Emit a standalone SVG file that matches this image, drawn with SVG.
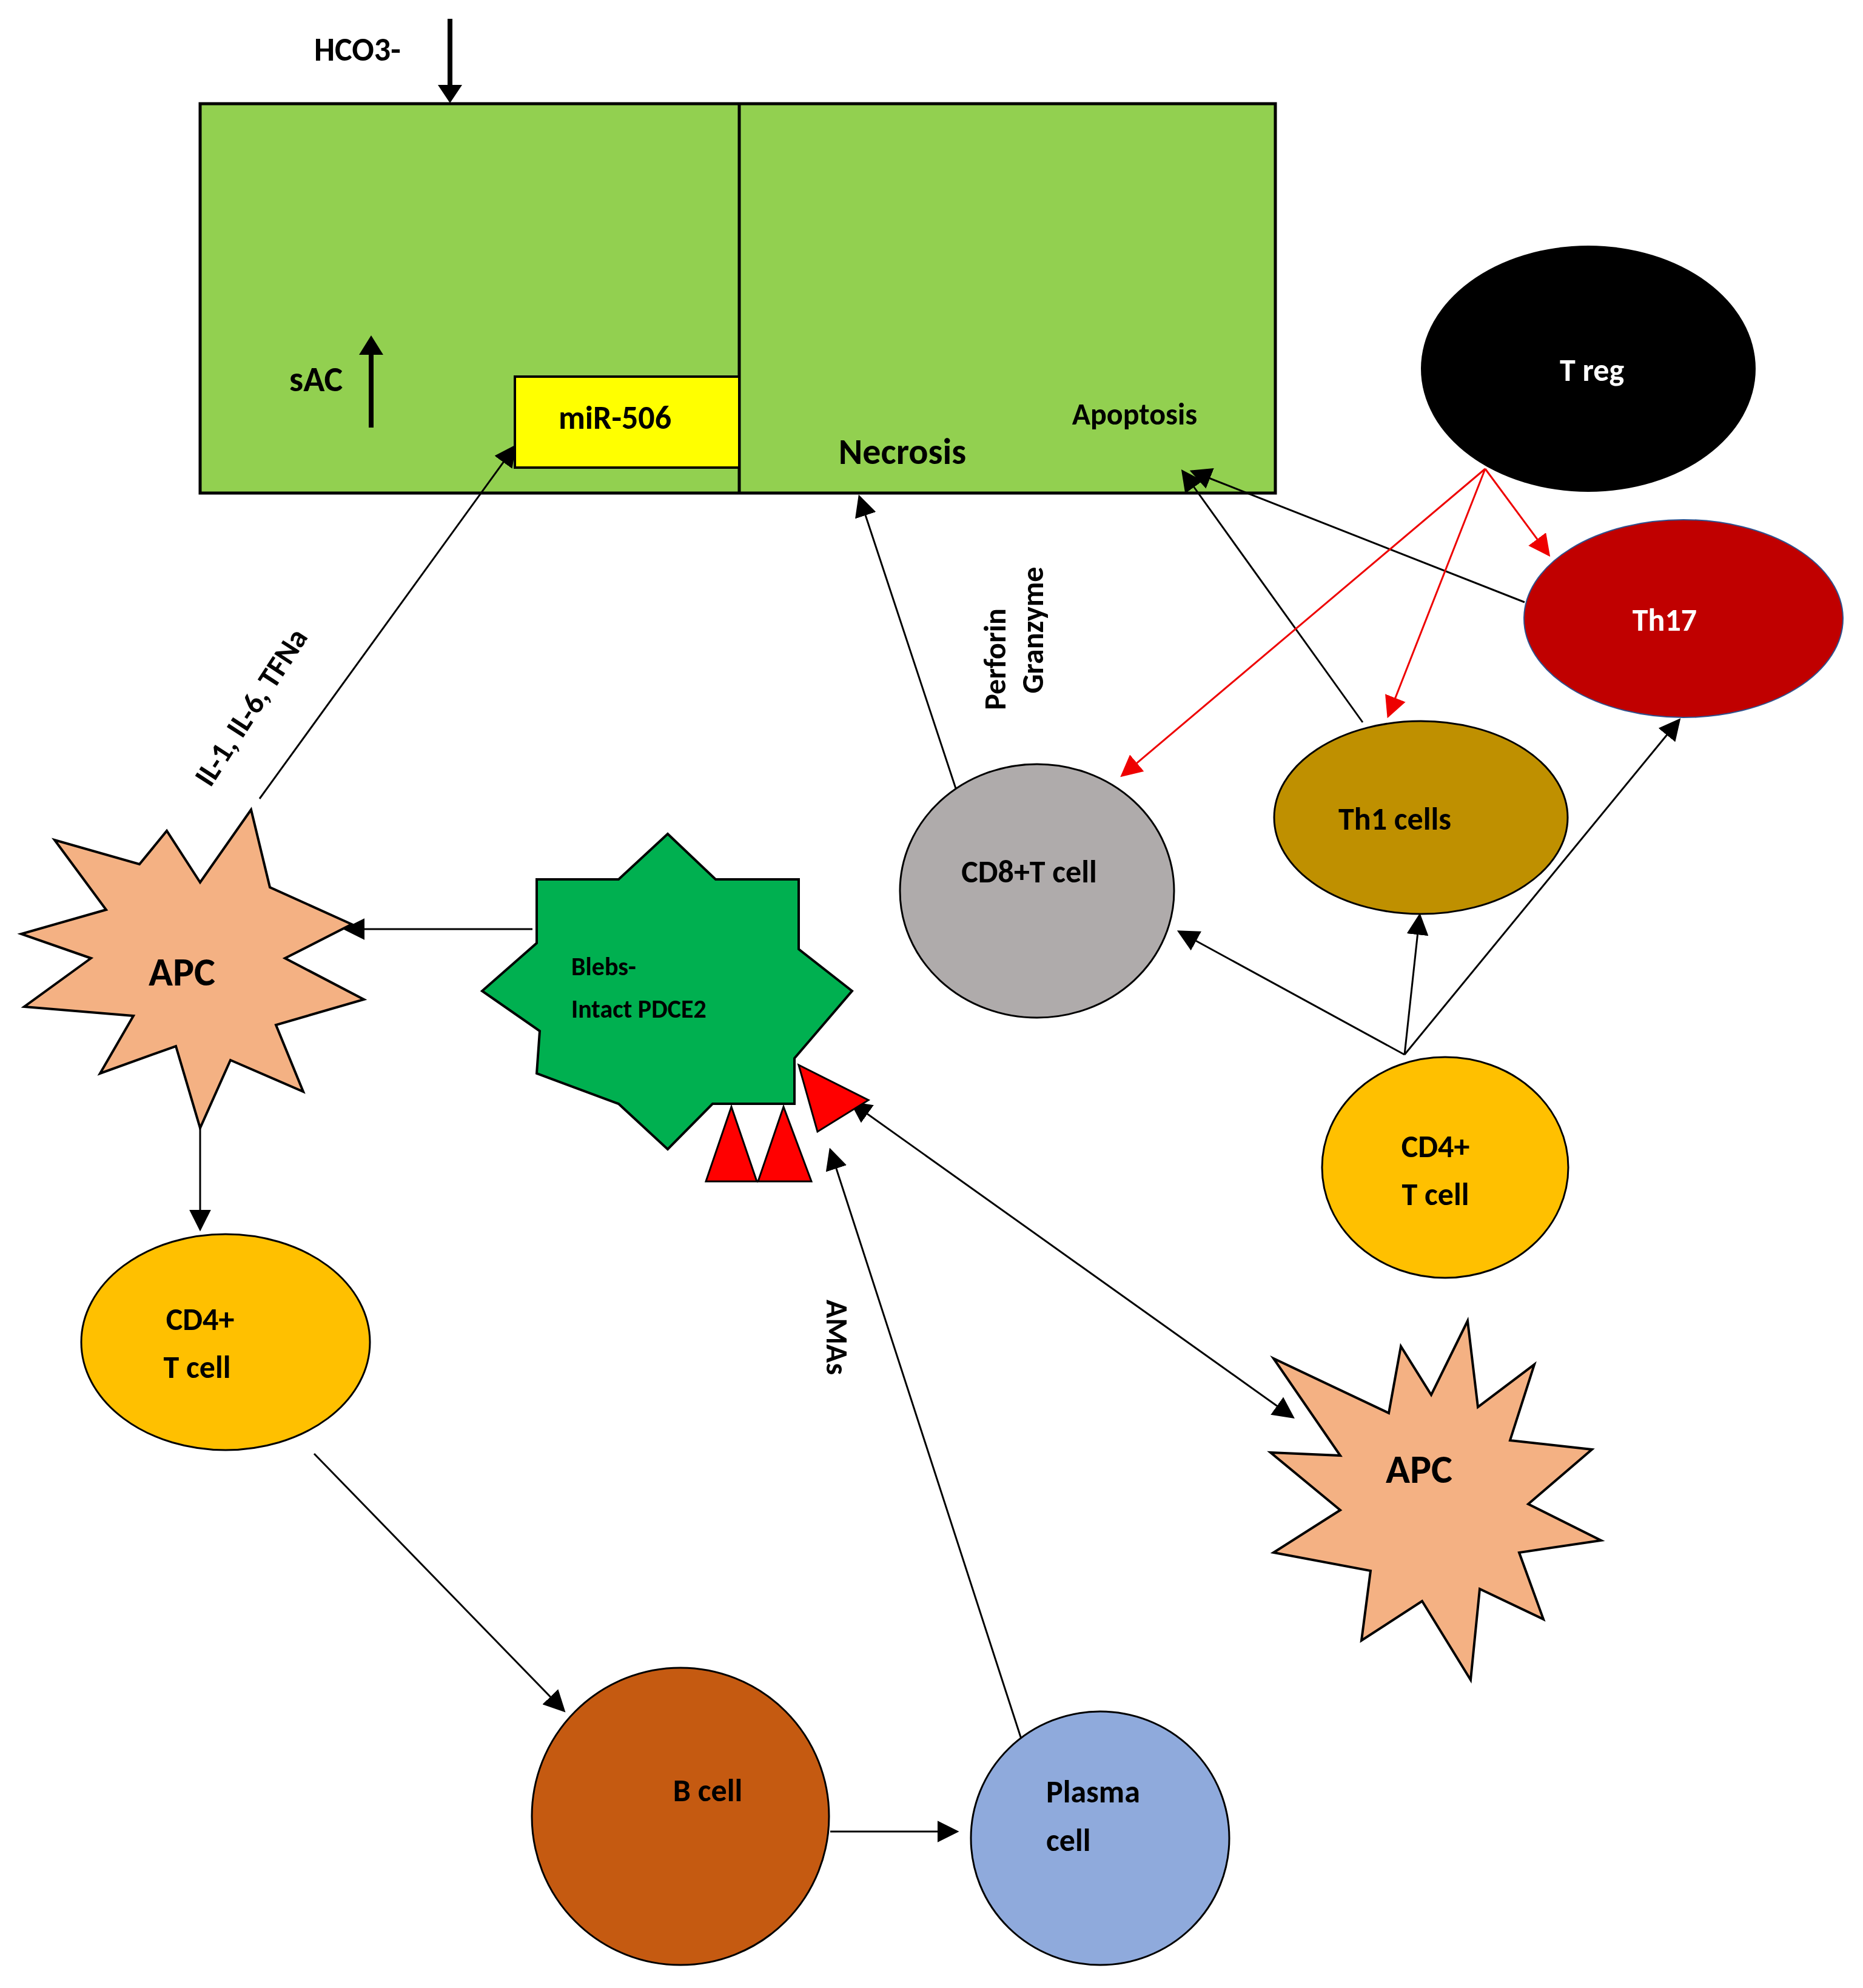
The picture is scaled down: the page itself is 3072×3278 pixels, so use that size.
<svg xmlns="http://www.w3.org/2000/svg" width="3072" height="3278" viewBox="0 0 3072 3278">
<style>
text{font-family:Calibri,"Liberation Sans",Arial,sans-serif;font-weight:bold;fill:#000}
.c{stroke:#2f528f;stroke-width:2}
.l{stroke:#000;stroke-width:3;fill:none;marker-end:url(#a)}
.r{stroke:#e00;stroke-width:3;fill:none;marker-end:url(#ar)}
</style>
<defs>
<marker id="a" markerWidth="10" markerHeight="10" refX="9" refY="5" orient="auto" markerUnits="userSpaceOnUse" viewBox="0 0 10 10"><path d="M0,0 L10,5 L0,10z" fill="#000" transform="scale(1)"/></marker>
<marker id="a2" viewBox="0 0 10 10" refX="9" refY="5" markerWidth="36" markerHeight="36" orient="auto-start-reverse" markerUnits="userSpaceOnUse"><path d="M0,0 L10,5 L0,10z" fill="#000"/></marker>
<marker id="ar" viewBox="0 0 10 10" refX="9" refY="5" markerWidth="36" markerHeight="36" orient="auto" markerUnits="userSpaceOnUse"><path d="M0,0 L10,5 L0,10z" fill="#e00"/></marker>
</defs>
<rect width="3072" height="3278" fill="#fff"/>
<g id="tissue">
<rect x="330" y="171" width="1773" height="642" fill="#92d050" stroke="#000" stroke-width="5"/>
<line x1="1219" y1="171" x2="1219" y2="813" stroke="#000" stroke-width="5"/>
<text x="518" y="100" font-size="54">HCO3-</text>
<line x1="742" y1="31" x2="742" y2="150" stroke="#000" stroke-width="8"/>
<path d="M722,140 L762,140 L742,170z" fill="#000"/>
<text x="477" y="645" font-size="58">sAC</text>
<line x1="612" y1="705" x2="612" y2="575" stroke="#000" stroke-width="8"/>
<path d="M592,585 L632,585 L612,553z" fill="#000"/>
<text x="1488" y="765" font-size="60" text-anchor="middle">Necrosis</text>
<text x="1871" y="700" font-size="50" text-anchor="middle">Apoptosis</text>
</g>
<g id="mir506"><rect x="849" y="621" width="370" height="150" fill="#ffff00" stroke="#000" stroke-width="4"/><text x="1014" y="707" font-size="54" text-anchor="middle">miR-506</text></g>
<g id="connectors">
<line class="l" x1="428" y1="1317" x2="849" y2="736" style="marker-end:url(#a2)"/>
<line class="l" x1="878" y1="1532" x2="569" y2="1532" style="marker-end:url(#a2)"/>
<line class="l" x1="330" y1="1751" x2="330" y2="2027" style="marker-end:url(#a2)"/>
<line class="l" x1="518" y1="2397" x2="930" y2="2821" style="marker-end:url(#a2)"/>
<line class="l" x1="1369" y1="3020" x2="1578" y2="3020" style="marker-end:url(#a2)"/>
<line class="l" x1="1693" y1="2895" x2="1369" y2="1896" style="marker-end:url(#a2)"/>
<line class="l" x1="1404" y1="1818" x2="2132" y2="2337" style="marker-start:url(#a2);marker-end:url(#a2)"/>
<line class="l" x1="1578" y1="1306" x2="1417" y2="819" style="marker-end:url(#a2)"/>
<line class="l" x1="2247" y1="1191" x2="1950" y2="777" style="marker-end:url(#a2)"/>
<line class="l" x1="2514" y1="993" x2="1965" y2="777" style="marker-end:url(#a2)"/>
<line class="l" x1="2316" y1="1739" x2="1944" y2="1536" style="marker-end:url(#a2)"/>
<line class="l" x1="2316" y1="1739" x2="2341" y2="1509" style="marker-end:url(#a2)"/>
<line class="l" x1="2316" y1="1739" x2="2769" y2="1187" style="marker-end:url(#a2)"/>
<line class="r" x1="2449" y1="773" x2="1850" y2="1279"/>
<line class="r" x1="2449" y1="773" x2="2289" y2="1181"/>
<line class="r" x1="2449" y1="773" x2="2554" y2="915"/>
<text font-size="50" transform="translate(428,1175) rotate(-57)" text-anchor="middle">IL-1, IL-6, TFNa</text>
<text font-size="50" transform="translate(1658,1087) rotate(-90)" text-anchor="middle">Perforin</text>
<text font-size="50" transform="translate(1720,1039) rotate(-90)" text-anchor="middle">Granzyme</text>
<text font-size="50" transform="translate(1363,2205) rotate(90)" text-anchor="middle">AMAs</text>
</g>
<g id="treg"><ellipse cx="2619" cy="608" rx="276" ry="203" fill="#000"/><text x="2625" y="628" font-size="52" text-anchor="middle" fill="#fff" style="fill:#fff">T reg</text></g>
<g id="th17"><ellipse class="c" cx="2776" cy="1020" rx="263" ry="163" fill="#c00000" stroke="#000"/><text x="2745" y="1040" font-size="52" text-anchor="middle" style="fill:#fff">Th17</text></g>
<g id="th1"><ellipse cx="2343" cy="1348" rx="242" ry="159" fill="#bf9000" stroke="#000" stroke-width="3"/><text x="2300" y="1368" font-size="52" text-anchor="middle">Th1 cells</text></g>
<g id="cd8"><ellipse cx="1710" cy="1469" rx="226" ry="209" fill="#afabab" stroke="#000" stroke-width="3"/><text x="1697" y="1455" font-size="52" text-anchor="middle">CD8+T cell</text></g>
<g id="cd4r"><ellipse cx="2383" cy="1925" rx="203" ry="182" fill="#ffc000" stroke="#000" stroke-width="3"/><text x="2367" y="1908" font-size="52" text-anchor="middle">CD4+</text><text x="2367" y="1987" font-size="52" text-anchor="middle">T cell</text></g>
<g id="cd4l"><ellipse cx="372" cy="2213" rx="238" ry="178" fill="#ffc000" stroke="#000" stroke-width="3"/><text x="330" y="2193" font-size="52" text-anchor="middle">CD4+</text><text x="325" y="2272" font-size="52" text-anchor="middle">T cell</text></g>
<g id="bcell"><ellipse cx="1122" cy="2995" rx="245" ry="245" fill="#c55a11" stroke="#000" stroke-width="3"/><text x="1167" y="2970" font-size="52" text-anchor="middle">B cell</text></g>
<g id="plasma"><ellipse cx="1814" cy="3031" rx="213" ry="209" fill="#8faadc" stroke="#000" stroke-width="3"/><text x="1725" y="2972" font-size="52">Plasma</text><text x="1725" y="3052" font-size="52">cell</text></g>
<g id="apc1"><polygon points="414,1335 445,1463 580,1524 470,1580 600,1648 455,1690 500,1800 380,1748 330,1860 290,1725 165,1770 220,1675 40,1660 150,1580 35,1540 175,1500 90,1385 230,1425 275,1370 330,1455" fill="#f4b183" stroke="#000" stroke-width="4"/><text x="300" y="1625" font-size="66" text-anchor="middle">APC</text></g>
<g id="apc2"><polygon points="2420,2178 2437,2320 2530,2250 2490,2375 2625,2390 2520,2480 2640,2540 2505,2560 2545,2670 2440,2620 2425,2770 2345,2640 2245,2705 2260,2590 2100,2560 2210,2490 2095,2395 2210,2400 2100,2240 2290,2330 2310,2220 2360,2300" fill="#f4b183" stroke="#000" stroke-width="4"/><text x="2340" y="2445" font-size="66" text-anchor="middle">APC</text></g>
<g id="blebs"><polygon points="1101,1375 1180,1450 1317,1450 1317,1565 1405,1634 1310,1745 1310,1820 1175,1820 1101,1895 1020,1820 885,1770 890,1700 795,1634 885,1555 885,1450 1020,1450" fill="#00b050" stroke="#000" stroke-width="4"/><text x="942" y="1608" font-size="42">Blebs-</text><text x="942" y="1678" font-size="42">Intact PDCE2</text>
<polygon points="1164,1948 1206,1825 1248,1948" fill="#ff0000" stroke="#000" stroke-width="3"/>
<polygon points="1250,1948 1292,1825 1338,1948" fill="#ff0000" stroke="#000" stroke-width="3"/>
<polygon points="1317,1756 1432,1814 1348,1866" fill="#ff0000" stroke="#000" stroke-width="3"/></g>
</svg>
